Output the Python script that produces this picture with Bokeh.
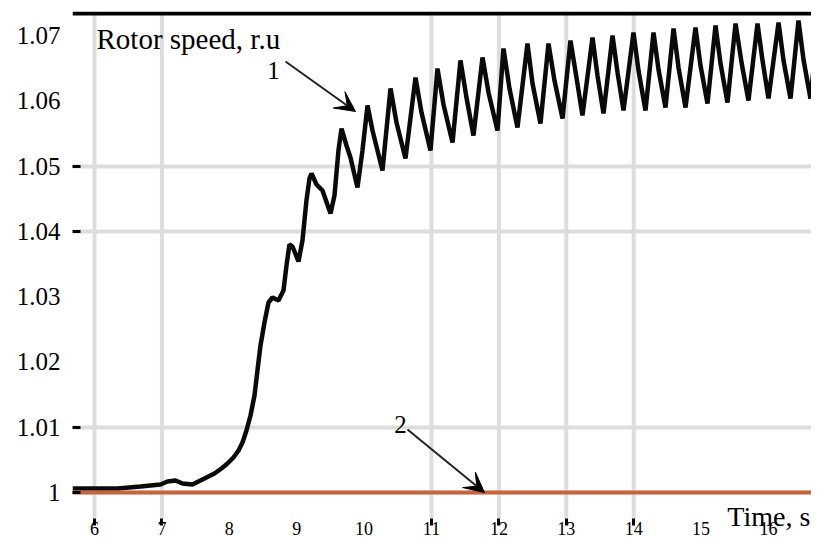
from bokeh.plotting import figure
from bokeh.models import (Range1d, FixedTicker, Label, Span, Arrow, VeeHead)
from bokeh.embed import file_html
from bokeh.resources import INLINE

FONT = "Liberation Serif"

# ---- data ----
# curve 1: rotor speed (r.u) vs time (s)
speed_t = [5.674, 6.341, 6.683, 6.979, 7.083, 7.202, 7.306, 7.454, 7.543, 7.662,
           7.780, 7.884, 7.973, 8.062, 8.137, 8.196, 8.255, 8.315, 8.374, 8.418,
           8.463, 8.522, 8.582, 8.641, 8.730, 8.804, 8.849, 8.893, 8.938, 9.027,
           9.086, 9.145, 9.190, 9.220, 9.294, 9.383, 9.502, 9.561, 9.620, 9.665,
           9.739, 9.798, 9.902, 9.976, 10.051, 10.125, 10.273,
           10.392, 10.481, 10.614, 10.763, 10.852, 10.985, 11.089, 11.178, 11.312,
           11.430, 11.519, 11.623, 11.757, 11.846, 11.979, 12.068, 12.157, 12.276,
           12.424, 12.499, 12.617, 12.736, 12.825, 12.944, 13.062, 13.151, 13.240,
           13.389, 13.463, 13.552, 13.686, 13.760, 13.849, 13.997, 14.071, 14.175,
           14.294, 14.368, 14.472, 14.591, 14.665, 14.769, 14.917, 14.991, 15.095,
           15.214, 15.288, 15.392, 15.511, 15.600, 15.703, 15.837, 15.911, 16.000,
           16.149, 16.223, 16.327, 16.445, 16.519, 16.623, 16.742, 16.816, 16.890]
speed_v = [1.00061, 1.00061, 1.00092, 1.00123, 1.00168, 1.00184, 1.00138, 1.00123, 1.00168, 1.00230,
           1.00291, 1.00368, 1.00444, 1.00536, 1.00643, 1.00766, 1.00949, 1.01179, 1.01485, 1.01868,
           1.02251, 1.02603, 1.02910, 1.02986, 1.02940, 1.03093, 1.03476, 1.03798, 1.03767, 1.03538,
           1.03859, 1.04472, 1.04809, 1.04885, 1.04717, 1.04625, 1.04273, 1.04548, 1.05237, 1.05574,
           1.05314, 1.05130, 1.04671, 1.05237, 1.05927, 1.05544, 1.04931,
           1.06187, 1.05666, 1.05115, 1.06355, 1.05819, 1.05237, 1.06493, 1.05942, 1.05360,
           1.06616, 1.06049, 1.05467, 1.06662, 1.06126, 1.05544, 1.06799, 1.06187, 1.05590,
           1.06876, 1.06263, 1.05651, 1.06876, 1.06309, 1.05727, 1.06922, 1.06355, 1.05773,
           1.06968, 1.06386, 1.05804, 1.06999, 1.06432, 1.05850, 1.07044, 1.06463, 1.05850,
           1.07044, 1.06478, 1.05896, 1.07106, 1.06508, 1.05896, 1.07121, 1.06539, 1.05957,
           1.07152, 1.06570, 1.05972, 1.07182, 1.06585, 1.06003, 1.07182, 1.06616, 1.06034,
           1.07198, 1.06616, 1.06034, 1.07228, 1.06631, 1.06034, 1.07228, 1.06692, 1.06309]

# curve 2: constant reference speed
ref_t = [5.674, 16.890]
ref_v = [1.0, 1.0]

# axes
x_ticks = [6, 7, 8, 9, 10, 11, 12, 13, 14, 15, 16]
x_labels = ["6", "7", "8", "9", "10", "11", "12", "13", "14", "15", "16"]
x_marks = [6, 7, 11, 12, 13, 14]          # tick marks / grid lines visible
y_ticks = [1.0, 1.01, 1.02, 1.03, 1.04, 1.05, 1.06, 1.07]
y_labels = ["1", "1.01", "1.02", "1.03", "1.04", "1.05", "1.06", "1.07"]
y_marks = [1.0, 1.01, 1.04, 1.05]

title_text = "Rotor speed, r.u"
xlabel_text = "Time, s"

# layout (data positions of the frame edges and of the time axis line)
X0, X1 = 5.674, 16.638
Y0, Y1 = 0.99219, 1.07366
X_AXIS_AT = 0.99602
TOP_LINE_AT = 1.07335

p = figure(width=811, height=543, output_backend="svg", toolbar_location=None,
           x_range=Range1d(X0, X1), y_range=Range1d(Y0, Y1),
           min_border_left=72, min_border_right=0, min_border_top=11,
           min_border_bottom=0)
p.outline_line_color = None
p.background_fill_color = "white"
p.border_fill_color = "white"

# grids: horizontal through the grid object, vertical ones end at the time axis
p.xgrid.grid_line_color = None
p.xgrid.visible = False
p.ygrid.ticker = FixedTicker(ticks=y_marks)
p.ygrid.grid_line_color = "#dddddd"
p.ygrid.grid_line_width = 4
n = len(x_marks)
p.segment(x0=x_marks, y0=[X_AXIS_AT] * n, x1=x_marks, y1=[TOP_LINE_AT] * n,
          line_color="#dddddd", line_width=4, level="underlay")

# bottom (time) axis, drawn at a fixed level inside the canvas
xa = p.xaxis[0]
xa.fixed_location = X_AXIS_AT
xa.ticker = FixedTicker(ticks=x_ticks, minor_ticks=x_marks)
xa.axis_line_color = None
xa.major_tick_line_color = None
xa.major_tick_in = 0
xa.major_tick_out = 7
xa.minor_tick_in = 0
xa.minor_tick_out = 7
xa.minor_tick_line_color = "black"
xa.minor_tick_line_width = 3
xa.major_label_standoff = -3
xa.major_label_overrides = {v: s for v, s in zip(x_ticks, x_labels)}
xa.major_label_text_font = FONT
xa.major_label_text_font_size = "18px"
xa.major_label_text_color = "black"

# left axis
ya = p.yaxis[0]
ya.ticker = FixedTicker(ticks=y_ticks, minor_ticks=y_marks)
ya.major_label_overrides = {v: s for v, s in zip(y_ticks, y_labels)}
ya.axis_line_color = None
ya.major_tick_line_color = None
ya.major_tick_in = 0
ya.major_tick_out = 0
ya.minor_tick_in = 8
ya.minor_tick_out = 0
ya.minor_tick_line_color = "black"
ya.minor_tick_line_width = 3
ya.major_label_standoff = 12
ya.major_label_text_font = FONT
ya.major_label_text_font_size = "25px"
ya.major_label_text_color = "black"

# top border line
p.add_layout(Span(location=TOP_LINE_AT, dimension="width", line_color="black",
                  line_width=4))

# curves
p.line(speed_t, speed_v, line_color="#0a0a0a", line_width=4.5)
p.line(ref_t, ref_v, line_color="#c8643a", line_width=4)

# titles
p.add_layout(Label(x=6.03, y=1.06945, text=title_text, text_font=FONT,
                   text_font_size="29px", text_baseline="alphabetic",
                   text_align="left", text_color="black"))
p.add_layout(Label(x=16.62, y=0.99632, text=xlabel_text, text_font=FONT,
                   text_font_size="28px", text_baseline="alphabetic",
                   text_align="right", text_color="black"))

# curve annotations
p.add_layout(Label(x=8.656, y=1.06463, text="1", text_font=FONT,
                   text_font_size="25px", text_baseline="alphabetic",
                   text_align="center", text_color="black"))
p.add_layout(Label(x=10.540, y=1.01041, text="2", text_font=FONT,
                   text_font_size="25px", text_baseline="alphabetic",
                   text_align="center", text_color="black"))
p.add_layout(Arrow(end=VeeHead(size=20, fill_color="black", line_color="black"),
                   x_start=8.834, y_start=1.06600, x_end=9.872, y_end=1.05835,
                   line_width=2, line_color="#222222"))
p.add_layout(Arrow(end=VeeHead(size=20, fill_color="black", line_color="black"),
                   x_start=10.644, y_start=1.00965, x_end=11.786, y_end=1.0,
                   line_width=2, line_color="#222222"))

open("out.html", "w").write(file_html(p, INLINE))
